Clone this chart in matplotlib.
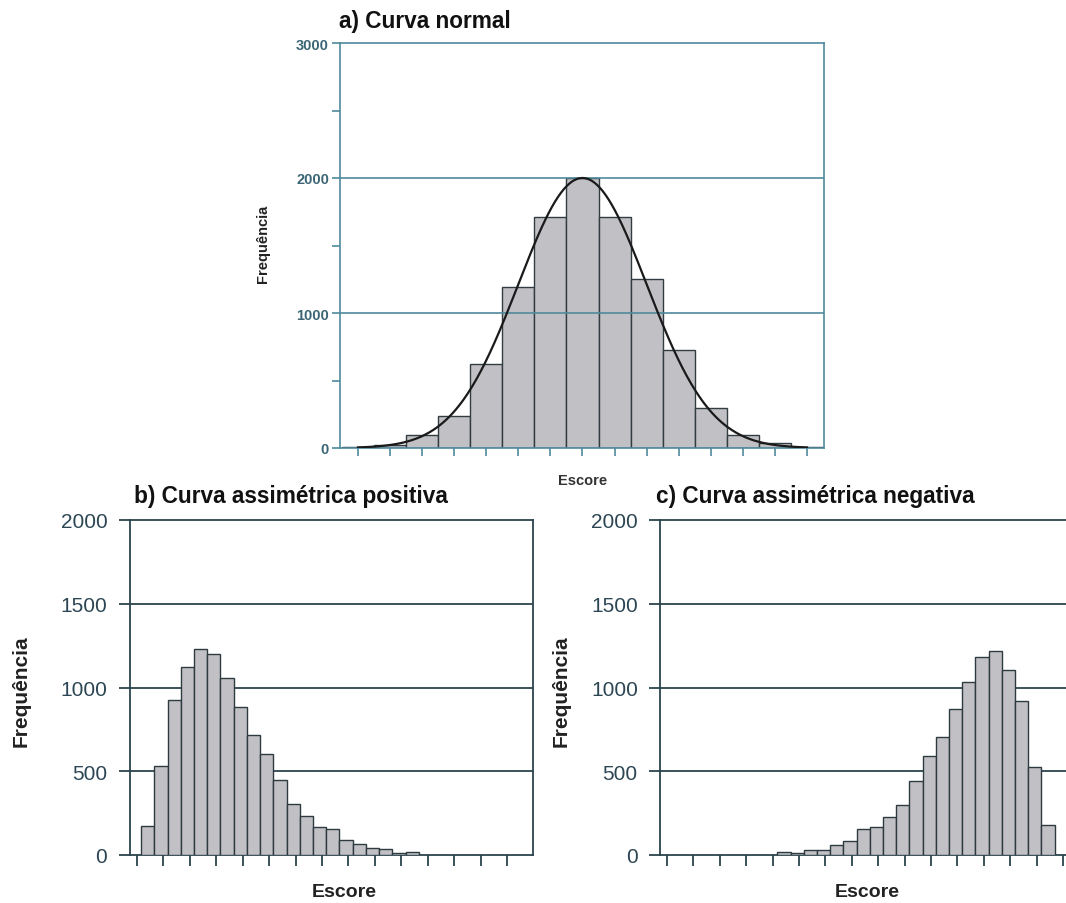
import numpy as np
import matplotlib
matplotlib.use('Agg')
import matplotlib.pyplot as plt

plt.rcParams['font.family'] = ['Liberation Sans', 'DejaVu Sans']

# --- data ---
# a) normal curve: one bar per score tick
normal_scores = list(range(1, 16))
normal_freq = [8, 20, 95, 240, 622, 1190, 1712, 2000, 1712, 1252, 725, 298, 100, 34, 10]
curve_mean = 8
curve_sd = 2
curve_peak = 2000

# b) positive skew: bars half a tick wide
pos_start = 1.16
pos_freq = [174, 530, 928, 1124, 1230, 1200, 1054, 882, 716, 602, 446,
            304, 234, 170, 158, 90, 64, 44, 34, 10, 20]

# c) negative skew
neg_start = 5.18
neg_freq = [16, 10, 30, 30, 60, 85, 153, 170, 225, 298, 443,
            594, 702, 869, 1034, 1183, 1217, 1107, 917, 523, 179]

# colours
bar_color = '#c1c1c5'
teal = '#4f8a9d'
dark = '#2c444e'
teal_text = '#3c6676'
dark_text = '#2c4654'

W, H = 1066, 904
fig = plt.figure(figsize=(W / 100, H / 100), dpi=100)
fig.patch.set_facecolor('white')


def px_axes(left, top, right, bottom):
    return fig.add_axes([left / W, 1 - bottom / H, (right - left) / W, (bottom - top) / H])


def px_text(x, y, s, **kw):
    fig.text(x / W, 1 - y / H, s, **kw)


# ---------- a) Curva normal ----------
ax = px_axes(340, 44, 824, 449)
ax.bar(normal_scores, normal_freq, width=1.0, color=bar_color,
       edgecolor='#333c40', linewidth=1.0, zorder=2)
xs = np.linspace(1, 15, 300)
ax.plot(xs, curve_peak * np.exp(-0.5 * ((xs - curve_mean) / curve_sd) ** 2),
        color='#1a1a1a', linewidth=1.6, zorder=4)
for g in [1000, 2000]:
    ax.axhline(g, color=teal, linewidth=1.2, zorder=3)
ax.set_xlim(0.44, 15.53)
ax.set_ylim(0, 3000)
ax.set_xticks(normal_scores)
ax.set_xticklabels([])
ax.set_yticks([0, 1000, 2000, 3000])
ax.set_yticks([500, 1500, 2500], minor=True)
ax.set_yticklabels(['0', '1000', '2000', '3000'], fontsize=10.5,
                   fontweight='bold', color=teal_text)
ax.tick_params(axis='both', which='both', direction='out', color=teal,
               width=1.2, length=6, pad=2)
for sp in ax.spines.values():
    sp.set_color(teal)
    sp.set_linewidth(1.2)

px_text(339, 28, 'a) Curva normal', fontsize=16.3, fontweight='bold',
        color='#111111', va='baseline')
px_text(263, 244, 'Frequência', fontsize=10.5, fontweight='bold',
        color='#222222', rotation=90, ha='center', va='center')
px_text(583, 481, 'Escore', fontsize=10.5, fontweight='bold',
        color='#333333', ha='center', va='center')


# ---------- b) and c) skewed curves ----------
def skew_panel(left, right, xlim, start, freq, nticks):
    ax = px_axes(left, 521, right, 856)
    lefts = [start + 0.5 * i for i in range(len(freq))]
    ax.bar(lefts, freq, width=0.5, align='edge', color=bar_color,
           edgecolor='#2d3a40', linewidth=1.0, zorder=3)
    for g in [500, 1000, 1500]:
        ax.axhline(g, color=dark, linewidth=1.3, zorder=1)
    ax.set_xlim(*xlim)
    ax.set_ylim(0, 2000)
    ax.set_xticks(range(1, nticks + 1))
    ax.set_xticklabels([])
    ax.set_yticks([0, 500, 1000, 1500, 2000])
    ax.set_yticklabels(['0', '500', '1000', '1500', '2000'], fontsize=15,
                       color=dark_text)
    ax.tick_params(axis='both', direction='out', color=dark, width=1.3,
                   length=8, pad=8)
    for sp in ax.spines.values():
        sp.set_color(dark)
        sp.set_linewidth(1.3)
    return ax


skew_panel(129.5, 533, (0.72, 15.98), pos_start, pos_freq, 15)
skew_panel(660, 1090, (0.735, 17.02), neg_start, neg_freq, 16)

px_text(134, 503, 'b) Curva assimétrica positiva', fontsize=16.3,
        fontweight='bold', color='#111111', va='baseline')
px_text(656, 503, 'c) Curva assimétrica negativa', fontsize=16.3,
        fontweight='bold', color='#111111', va='baseline')
for x in [21, 561]:
    px_text(x, 691, 'Frequência', fontsize=15, fontweight='bold',
            color='#222222', rotation=90, ha='center', va='center')
for x in [344, 867]:
    px_text(x, 893, 'Escore', fontsize=14, fontweight='bold',
            color='#222222', ha='center', va='center')

fig.savefig('out.png', dpi=100, facecolor='white')
